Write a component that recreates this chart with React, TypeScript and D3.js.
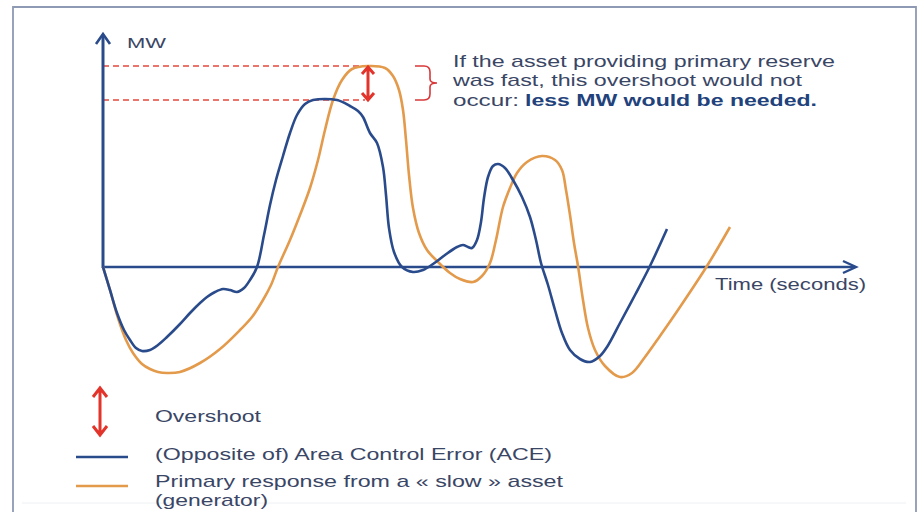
import * as d3 from 'd3';
import React from 'react';

// ACE curve (opposite of Area Control Error), time in s, power in MW
const aceTime = [0, 0.7, 1.4, 2.1, 2.7, 3.3, 3.9, 4.7, 5.5, 6.4, 7.7, 8.7, 9.7, 10.4, 11.2, 12.0, 12.7, 13.4, 14.1, 14.7, 15.4, 16.1, 16.7, 17.3, 18.0, 18.7, 19.4, 20.2, 21.0, 23.4, 24.7, 25.5, 26.0, 26.7, 27.4, 28.0, 28.3, 28.6, 29.1, 29.9, 31.0, 32.0, 33.0, 34.2, 35.4, 36.0, 36.5, 36.9, 37.4, 37.8, 38.1, 38.5, 39.0, 39.5, 40.2, 41.0, 41.9, 42.7, 43.3, 43.8, 44.5, 45.2, 45.9, 46.7, 47.7, 48.7, 49.7, 50.4, 51.7, 53.2, 54.7, 56.4];
const aceMW = [0, -2.3, -4.6, -6.3, -7.3, -8.1, -8.4, -8.3, -7.8, -7.0, -5.7, -4.6, -3.6, -3.0, -2.5, -2.2, -2.3, -2.5, -2.1, -1.3, 0, 3.2, 6.2, 8.7, 11.1, 13.4, 15.2, 16.3, 16.7, 16.7, 16.1, 15.6, 15.0, 13.4, 12.4, 10.0, 7.2, 3.9, 1.5, 0, -0.5, -0.3, 0.3, 1.2, 2.0, 2.2, 2.0, 1.9, 2.7, 4.5, 6.9, 9.0, 10.1, 10.3, 9.9, 8.7, 7.0, 5.0, 2.7, 0.4, -1.8, -4.3, -6.6, -8.3, -9.2, -9.5, -8.9, -8.0, -5.6, -2.8, 0.1, 3.8];

// primary response of a slow asset (generator)
const slowTime = [0, 0.7, 1.5, 2.3, 3.0, 3.9, 4.7, 5.5, 6.4, 7.7, 9.7, 11.7, 13.7, 14.9, 16.0, 16.8, 17.5, 18.7, 19.7, 20.7, 21.5, 22.2, 23.0, 23.9, 24.9, 26.5, 28.2, 29.0, 29.6, 30.0, 30.3, 30.6, 31.0, 31.6, 32.4, 33.4, 34.7, 35.7, 37.0, 37.9, 38.7, 39.3, 40.0, 40.7, 41.4, 42.4, 43.9, 45.2, 45.9, 46.3, 46.7, 47.1, 47.5, 48.0, 48.5, 49.2, 50.2, 51.7, 52.9, 54.2, 55.7, 57.7, 60.4, 62.7];
const slowMW = [0, -2.3, -5.1, -7.3, -8.6, -9.7, -10.2, -10.5, -10.6, -10.5, -9.6, -8.2, -6.3, -5.0, -3.3, -1.8, 0, 2.7, 5.2, 7.9, 10.7, 13.7, 16.7, 18.7, 19.8, 20.1, 19.9, 19.1, 17.7, 15.7, 12.7, 9.2, 5.9, 3.4, 1.7, 0.6, -0.6, -1.2, -1.5, -0.9, 0.4, 2.7, 6.0, 7.9, 9.4, 10.5, 11.1, 10.7, 9.7, 7.7, 5.2, 2.4, 0.1, -3.3, -6.1, -8.3, -9.9, -11.0, -10.6, -9.0, -6.9, -4.0, 0.1, 4.0];

const noteLines = [
  'If the asset providing primary reserve',
  'was fast, this overshoot would not',
];
const noteLast = 'occur:';
const noteBold = 'less MW would be needed.';

const legendLabels = [
  'Overshoot',
  '(Opposite of) Area Control Error (ACE)',
  'Primary response from a « slow » asset',
  '(generator)',
];

const blue = '#2a4b8b';
const orange = '#e39a4b';
const red = '#e2342a';
const textColor = '#3a4665';
const font = '"Liberation Sans", Arial, sans-serif';

export default function App() {
  const width = 919;
  const height = 512;

  const x = d3.scaleLinear().domain([0, 75.3]).range([103, 856]);
  const y = d3.scaleLinear().domain([0, 23.3]).range([267, 34]);

  const pathFor = (ts: number[], vs: number[]) =>
    d3
      .line<number>()
      .x((t) => x(t))
      .y((_, i) => y(vs[i]))
      .curve(d3.curveCatmullRom.alpha(0.5))(ts) as string;

  const acePeak = d3.max(aceMW) as number;
  const slowPeak = d3.max(slowMW) as number;
  const peakT = slowTime[d3.maxIndex(slowMW)];
  const ax = x(peakT);
  const yHi = y(slowPeak);
  const yLo = y(acePeak);

  // vertical double arrow with open heads
  const dblArrow = (cx: number, y1: number, y2: number, w: number, d: number) =>
    `M${cx},${y1 + 1}L${cx},${y2 - 1}M${cx - w},${y1 + d}L${cx},${y1}L${cx + w},${y1 + d}M${cx - w},${y2 - d}L${cx},${y2}L${cx + w},${y2 - d}`;

  const bx = 415;
  const yMid = (yHi + yLo) / 2;
  const brace = `M${bx},${yHi}L${bx + 9},${yHi}Q${bx + 15},${yHi} ${bx + 15},${yHi + 6}L${bx + 15},${yMid - 4}Q${bx + 15},${yMid} ${bx + 22},${yMid}Q${bx + 15},${yMid} ${bx + 15},${yMid + 4}L${bx + 15},${yLo - 6}Q${bx + 15},${yLo} ${bx + 9},${yLo}L${bx},${yLo}`;

  return (
    <svg
      width={width}
      height={height}
      style={{ position: 'absolute', left: 0, top: 0, background: '#fff' }}
      fontFamily={font}
    >
      {/* frame */}
      <path d="M13,512L13,7L916,7L916,512" fill="none" stroke="#8e9ab4" strokeWidth={1.8} />
      <line x1={22} x2={906} y1={503} y2={503} stroke="#eef0f4" strokeWidth={1} />

      {/* overshoot guides */}
      <line x1={x(0)} x2={ax} y1={yHi} y2={yHi} stroke="#e4483e" strokeWidth={1.4} strokeDasharray="6,4" />
      <line x1={x(0)} x2={ax - 3} y1={yLo} y2={yLo} stroke="#e4483e" strokeWidth={1.4} strokeDasharray="6,4" />

      {/* axes */}
      <line x1={x(0)} x2={x(0)} y1={y(0) + 1} y2={y(23.2)} stroke={blue} strokeWidth={3} />
      <path d={`M${x(0) - 7},${y(23.3) + 10}L${x(0)},${y(23.3)}L${x(0) + 7},${y(23.3) + 10}`} fill="none" stroke={blue} strokeWidth={2.6} />
      <line x1={x(0)} x2={x(75.2)} y1={y(0)} y2={y(0)} stroke={blue} strokeWidth={2.6} />
      <path d={`M${x(75.3) - 13},${y(0) - 6}L${x(75.3)},${y(0)}L${x(75.3) - 13},${y(0) + 6}`} fill="none" stroke={blue} strokeWidth={2.4} />

      <text x={127} y={48} fontSize={14} fill={textColor} textLength={39} lengthAdjust="spacingAndGlyphs">MW</text>
      <text x={715} y={290} fontSize={17} fill={textColor} textLength={151} lengthAdjust="spacingAndGlyphs">Time (seconds)</text>

      {/* curves */}
      <path d={pathFor(slowTime, slowMW)} fill="none" stroke={orange} strokeWidth={2.6} strokeLinejoin="round" />
      <path d={pathFor(aceTime, aceMW)} fill="none" stroke={blue} strokeWidth={2.6} strokeLinejoin="round" />

      {/* overshoot arrow and brace */}
      <path d={dblArrow(ax, yHi + 1, yLo, 6, 7)} fill="none" stroke={red} strokeWidth={3} />
      <path d={brace} fill="none" stroke="#d8383a" strokeWidth={1.6} />

      {/* note */}
      <text x={453} y={67} fontSize={17} fill={textColor} textLength={382} lengthAdjust="spacingAndGlyphs">{noteLines[0]}</text>
      <text x={453} y={86} fontSize={17} fill={textColor} textLength={349} lengthAdjust="spacingAndGlyphs">{noteLines[1]}</text>
      <text x={453} y={106} fontSize={17} fill={textColor} textLength={66} lengthAdjust="spacingAndGlyphs">{noteLast}</text>
      <text x={525} y={106} fontSize={17} fontWeight="bold" fill="#22427c" textLength={292} lengthAdjust="spacingAndGlyphs">{noteBold}</text>

      {/* legend */}
      <path d={dblArrow(100, 388, 435, 7, 9)} fill="none" stroke={red} strokeWidth={3} />
      <line x1={76} x2={128} y1={457} y2={457} stroke={blue} strokeWidth={2.6} />
      <line x1={76} x2={128} y1={486} y2={486} stroke={orange} strokeWidth={2.6} />
      <text x={155} y={422} fontSize={17} fill={textColor} textLength={106} lengthAdjust="spacingAndGlyphs">{legendLabels[0]}</text>
      <text x={155} y={460} fontSize={17} fill={textColor} textLength={397} lengthAdjust="spacingAndGlyphs">{legendLabels[1]}</text>
      <text x={155} y={487} fontSize={17} fill={textColor} textLength={408} lengthAdjust="spacingAndGlyphs">{legendLabels[2]}</text>
      <text x={155} y={506} fontSize={17} fill={textColor} textLength={113} lengthAdjust="spacingAndGlyphs">{legendLabels[3]}</text>
    </svg>
  );
}
